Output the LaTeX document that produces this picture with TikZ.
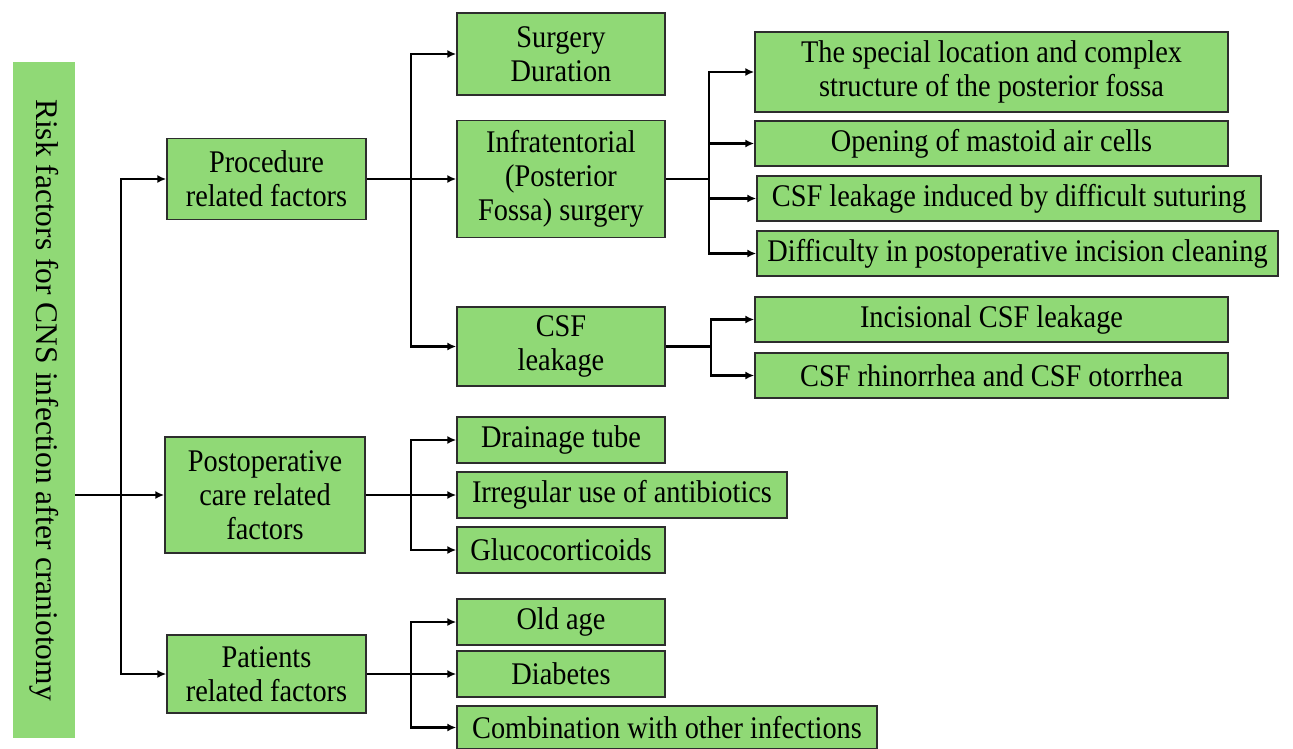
\documentclass[tikz,border=0pt]{standalone}
\usepackage{fontspec}
\setmainfont{Liberation Serif}
\newfontfamily\narrowserif{Liberation Serif}[FakeStretch=0.9]
\usetikzlibrary{arrows.meta}
\definecolor{boxgreen}{RGB}{144,217,118}
\definecolor{boxline}{RGB}{45,45,45}
\tikzset{
  fbox/.style={draw=boxline, line width=1.4pt, fill=boxgreen, inner sep=0pt, align=center,
    font=\narrowserif\fontsize{31.5}{34}\selectfont},
  conn/.style={line width=2.2pt, black},
  arr/.style={conn, -{Latex[length=9pt,width=8pt]}},
}
\newcommand{\bx}[6]{\node[fbox, minimum width=#4pt, minimum height=#5pt] (#1) at (#2,#3) {#6};}
\begin{document}
\begin{tikzpicture}[x=1pt,y=-1pt]
\useasboundingbox (0,0) rectangle (1293,749);
% root
\node[fill=boxgreen, minimum width=62pt, minimum height=676pt, inner sep=0pt] (root) at (44,400) {};
\node[rotate=-90, font=\fontsize{31.5}{34}\selectfont, inner sep=0pt] (roottext) at (44,400) {Risk factors for CNS infection after craniotomy};
% level 1
\bx{proc}{266.5}{179}{199}{81}{Procedure\\related factors}
\bx{post}{265}{495}{200}{116}{Postoperative\\care related\\factors}
\bx{pat}{266.5}{674}{199}{78}{Patients\\related factors}
% level 2
\bx{dur}{561}{54}{208}{82}{Surgery\\Duration}
\bx{infra}{561}{179}{208}{117}{Infratentorial\\(Posterior\\Fossa) surgery}
\bx{csf}{561}{346.5}{208}{79}{CSF\\leakage}
\bx{drain}{561}{440}{208}{46}{Drainage tube}
\bx{irr}{622}{495}{330}{46}{Irregular use of antibiotics}
\bx{gluc}{561}{550}{208}{46}{Glucocorticoids}
\bx{old}{561}{622}{208}{46}{Old age}
\bx{dia}{561}{674}{208}{46}{Diabetes}
\bx{comb}{667}{727.5}{420}{43}{Combination with other infections}
% level 3
\bx{spec}{991.5}{72}{473}{80}{The special location and complex\\structure of the posterior fossa}
\bx{open}{991.5}{143.5}{473}{45}{Opening of mastoid air cells}
\bx{ind}{1009}{198.5}{504}{45}{CSF leakage induced by difficult suturing}
\bx{diff}{1017.5}{253.5}{521}{45}{Difficulty in postoperative incision cleaning}
\bx{inc}{991.5}{319.5}{473}{45}{Incisional CSF leakage}
\bx{rhin}{991.5}{375.5}{473}{45}{CSF rhinorrhea and CSF otorrhea}
% branch coordinates
\coordinate (t0) at (121,0);
\coordinate (t1) at (411,0);
\coordinate (t2) at (709,0);
\coordinate (t3) at (711,0);
% root connectors
\draw[arr] (root.east |- post.west) -- (post.west);
\draw[arr] (t0 |- post.west) |- (proc.west);
\draw[arr] (t0 |- post.west) |- (pat.west);
% procedure
\draw[arr] (proc.east) -- (infra.west);
\draw[arr] (t1 |- proc.east) |- (dur.west);
\draw[arr] (t1 |- proc.east) |- (csf.west);
% postoperative
\draw[arr] (post.east) -- (irr.west);
\draw[arr] (t1 |- post.east) |- (drain.west);
\draw[arr] (t1 |- post.east) |- (gluc.west);
% patients
\draw[arr] (pat.east) -- (dia.west);
\draw[arr] (t1 |- pat.east) |- (old.west);
\draw[arr] (t1 |- pat.east) |- (comb.west);
% infratentorial
\draw[conn] (infra.east) -- (t2 |- infra.east);
\draw[arr] (t2 |- infra.east) |- (spec.west);
\draw[arr] (t2 |- infra.east) |- (open.west);
\draw[arr] (t2 |- infra.east) |- (ind.west);
\draw[arr] (t2 |- infra.east) |- (diff.west);
% csf leakage
\draw[conn] (csf.east) -- (t3 |- csf.east);
\draw[arr] (t3 |- csf.east) |- (inc.west);
\draw[arr] (t3 |- csf.east) |- (rhin.west);
\end{tikzpicture}
\end{document}
